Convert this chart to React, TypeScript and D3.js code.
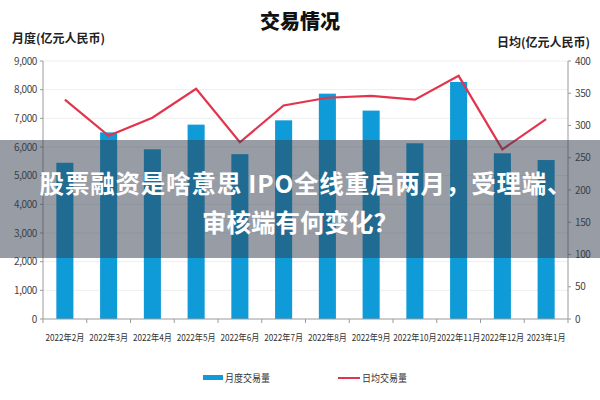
import * as d3 from 'd3';

const months = ['2022年2月', '2022年3月', '2022年4月', '2022年5月', '2022年6月', '2022年7月', '2022年8月', '2022年9月', '2022年10月', '2022年11月', '2022年12月', '2023年1月'];
const monthlyVolume = [5450, 6510, 5920, 6780, 5750, 6930, 7860, 7270, 6130, 8270, 5780, 5545];
const dailyAverage = [340, 284, 312, 357, 274, 331, 343, 346, 340, 377, 263, 310];
const leftTicks = [0, 1000, 2000, 3000, 4000, 5000, 6000, 7000, 8000, 9000];
const rightTicks = [0, 50, 100, 150, 200, 250, 300, 350, 400];

const W = 600;
const H = 400;
const font = '"Noto Sans CJK SC", "Noto Sans", sans-serif';
const blue = '#0f9ad8';
const red = '#e3344d';
const axisGray = '#9a9a9a';

export default function App() {
  const x = d3.scaleBand<string>().domain(months).range([43, 568]).paddingInner(0.61).paddingOuter(0.305);
  const yL = d3.scaleLinear().domain([0, 9000]).range([319, 61]);
  const yR = d3.scaleLinear().domain([0, 400]).range([319, 61]);
  const step = x.step();
  const cx = (m: string) => (x(m) ?? 0) + x.bandwidth() / 2;

  const line = d3.line<number>()
    .x((_, i) => cx(months[i]))
    .y((d) => yR(d));

  const fmt = d3.format(',');

  return (
    <svg width={W} height={H} style={{ position: 'absolute', left: 0, top: 0, background: '#fff' }} fontFamily={font}>
      {/* title + axis names */}
      <text x={300} y={29} textAnchor="middle" fontSize={20} fontWeight={900} fill="#111">交易情况</text>
      <text x={12} y={43} fontSize={12} fontWeight={700} fill="#222">月度(亿元人民币)</text>
      <text x={590} y={47} textAnchor="end" fontSize={12} fontWeight={700} fill="#222">日均(亿元人民币)</text>

      {/* gridlines */}
      {leftTicks.slice(1).map((t) => (
        <line key={t} x1={43} x2={568} y1={yL(t)} y2={yL(t)} stroke="#eeeeee" strokeWidth={1} />
      ))}

      {/* bars */}
      {monthlyVolume.map((v, i) => (
        <rect key={months[i]} x={x(months[i])} y={yL(v)} width={x.bandwidth()} height={yL(0) - yL(v)} fill={blue} />
      ))}

      {/* line */}
      <path d={line(dailyAverage) ?? ''} fill="none" stroke={red} strokeWidth={2.2} strokeLinejoin="miter" />

      {/* left axis */}
      <line x1={43} x2={43} y1={yL(9000)} y2={yL(0)} stroke={axisGray} />
      {leftTicks.map((t) => (
        <g key={t}>
          <line x1={40} x2={43} y1={yL(t)} y2={yL(t)} stroke={axisGray} />
          <text x={37} y={yL(t)} dy="0.35em" textAnchor="end" fontSize={10} fill="#444" letterSpacing={-0.4}>{fmt(t)}</text>
        </g>
      ))}

      {/* right axis */}
      <line x1={568} x2={568} y1={yR(400)} y2={yR(0)} stroke={axisGray} />
      {rightTicks.map((t) => (
        <g key={t}>
          <line x1={568} x2={571} y1={yR(t)} y2={yR(t)} stroke={axisGray} />
          <text x={575} y={yR(t)} dy="0.35em" fontSize={10} fill="#444" letterSpacing={-0.4}>{t}</text>
        </g>
      ))}

      {/* bottom axis */}
      <line x1={43} x2={568} y1={yL(0)} y2={yL(0)} stroke={axisGray} />
      {months.map((m, i) => (
        <line key={'t' + m} x1={43 + step * i} x2={43 + step * i} y1={yL(0)} y2={yL(0) + 4} stroke={axisGray} />
      ))}
      <line x1={568} x2={568} y1={yL(0)} y2={yL(0) + 4} stroke={axisGray} />
      {months.map((m) => (
        <text key={'l' + m} transform={`translate(${cx(m)},341) scale(0.86,1)`} textAnchor="middle" fontSize={9.5} fill="#333">{m}</text>
      ))}

      {/* legend */}
      <rect x={203} y={375} width={20} height={5} fill={blue} />
      <text transform="translate(225,382) scale(0.9,1)" fontSize={10} fill="#333">月度交易量</text>
      <line x1={338} x2={360} y1={378} y2={378} stroke={red} strokeWidth={2} />
      <text transform="translate(362,382) scale(0.9,1)" fontSize={10} fill="#333">日均交易量</text>

      {/* overlay banner */}
      <rect x={0} y={140} width={W} height={118} fill="rgb(50,60,75)" fillOpacity={0.5} />
      <text x={306} y={193} textAnchor="middle" fontSize={24.5} fontWeight={700} fill="#fff" letterSpacing={0.8}>股票融资是啥意思 IPO全线重启两月，受理端、</text>
      <text x={300} y={232} textAnchor="middle" fontSize={24.5} fontWeight={700} fill="#fff">审核端有何变化？</text>
    </svg>
  );
}
